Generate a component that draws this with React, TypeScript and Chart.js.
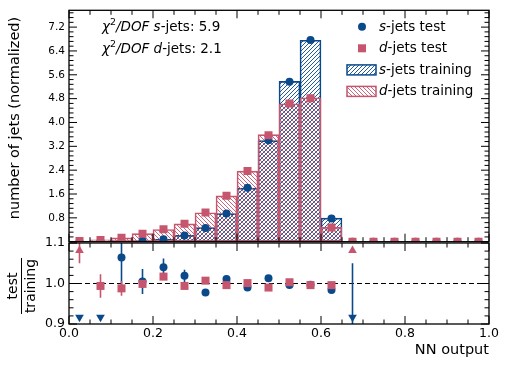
import React, { useEffect, useRef } from 'react';
import { Chart, registerables } from 'chart.js';

Chart.register(...registerables);

// ---------- data ----------
const binCenters = [0.025, 0.075, 0.125, 0.175, 0.225, 0.275, 0.325, 0.375, 0.425, 0.475, 0.525, 0.575, 0.625, 0.675, 0.725, 0.775, 0.825, 0.875, 0.925, 0.975];
const sTrain = [0, 0, 0.01, 0.02, 0.08, 0.21, 0.47, 0.94, 1.8, 3.39, 5.38, 6.76, 0.79, 0, 0, 0, 0, 0, 0, 0];
const dTrain = [0.02, 0.06, 0.13, 0.27, 0.41, 0.6, 0.97, 1.54, 2.37, 3.59, 4.63, 4.83, 0.48, 0, 0, 0, 0, 0, 0, 0];
const sTest = [0, 0, 0.01, 0.03, 0.08, 0.21, 0.46, 0.95, 1.81, 3.4, 5.37, 6.77, 0.78, 0, 0, 0, 0, 0, 0, 0];
const dTest = [0.025, 0.06, 0.13, 0.27, 0.42, 0.6, 0.98, 1.54, 2.37, 3.57, 4.64, 4.81, 0.48, 0, 0, 0, 0, 0, 0, 0];
const sRatio = [0, 0, 1.064, 1.005, 1.04, 1.019, 0.978, 1.011, 0.99, 1.013, 0.996, 0.997, 0.984, 0, null, null, null, null, null, null];
const sRatioErr = [0, 0, 0.085, 0.031, 0.022, 0.015, 0.006, 0.005, 0.004, 0.003, 0.002, 0.002, 0.006, 1.05, null, null, null, null, null, null];
const dRatio = [1.2, 0.994, 0.988, 0.999, 1.017, 0.994, 1.007, 0.996, 1.001, 0.99, 1.003, 0.996, 0.996, 1.5, null, null, null, null, null, null];
const dRatioErr = [0.15, 0.029, 0.018, 0.01, 0.008, 0.006, 0.005, 0.004, 0.003, 0.003, 0.002, 0.002, 0.006, 0, null, null, null, null, null, null];
const mainYTicks = [0.8, 1.6, 2.4, 3.2, 4.0, 4.8, 5.6, 6.4, 7.2];
const ratioYTicks = [0.9, 1.0, 1.1];
const xTicks = [0, 0.2, 0.4, 0.6, 0.8, 1.0];
const chi2Flavours = ['s', 'd'];
const chi2Values = ['5.9', '2.1'];
const legendFlavours = ['s', 'd', 's', 'd'];
const legendSuffix = ['-jets test', '-jets test', '-jets training', '-jets training'];

// ---------- style ----------
const BLUE = '#0a4a8b';
const RED = '#c5566d';
const FAM = '"DejaVu Sans", sans-serif';
const MAIN_MAX = 7.764;
const R_MIN = 0.9;
const R_MAX = 1.1;

function makeHatch(color: string, forward: boolean): any {
  const s = 4;
  const c = document.createElement('canvas');
  c.width = s;
  c.height = s;
  const g = c.getContext('2d');
  if (!g) return 'transparent';
  g.strokeStyle = color;
  g.lineWidth = 0.9;
  g.beginPath();
  if (forward) {
    g.moveTo(0, s); g.lineTo(s, 0);
    g.moveTo(-1, 1); g.lineTo(1, -1);
    g.moveTo(s - 1, s + 1); g.lineTo(s + 1, s - 1);
  } else {
    g.moveTo(0, 0); g.lineTo(s, s);
    g.moveTo(-1, s - 1); g.lineTo(1, s + 1);
    g.moveTo(s - 1, -1); g.lineTo(s + 1, 1);
  }
  g.stroke();
  return g.createPattern(c, 'repeat') || 'transparent';
}

type Seg = { t: string; it?: boolean; sup?: boolean };
function drawRich(ctx: CanvasRenderingContext2D, x: number, y: number, segs: Seg[], size: number) {
  let cx = x;
  ctx.textAlign = 'left';
  ctx.textBaseline = 'alphabetic';
  for (const s of segs) {
    const sz = s.sup ? size * 0.7 : size;
    ctx.font = `${s.it ? 'italic ' : ''}${sz}px ${FAM}`;
    ctx.fillText(s.t, cx, y + (s.sup ? -size * 0.42 : 0));
    cx += ctx.measureText(s.t).width;
  }
}

function decorPlugin(cfg: { xMinor: number; yMinor: number; xMajor: number[]; yMajor: number[] }) {
  return {
    id: 'decor',
    afterDatasetsDraw(chart: any) {
      const { ctx, chartArea: a } = chart;
      const xs = chart.scales.x;
      const ys = chart.scales.y;
      const MAJ = 8;
      const MIN = 4.5;
      ctx.save();
      ctx.strokeStyle = '#000';
      ctx.lineWidth = 1;
      ctx.beginPath();
      for (let v = xs.min; v <= xs.max + 1e-9; v += cfg.xMinor) {
        const isMaj = cfg.xMajor.some((m) => Math.abs(m - v) < 1e-6);
        const len = isMaj ? MAJ : MIN;
        const px = xs.getPixelForValue(v);
        ctx.moveTo(px, a.bottom); ctx.lineTo(px, a.bottom - len);
        ctx.moveTo(px, a.top); ctx.lineTo(px, a.top + len);
      }
      for (let v = ys.min; v <= ys.max + 1e-9; v += cfg.yMinor) {
        const isMaj = cfg.yMajor.some((m) => Math.abs(m - v) < 1e-6);
        const len = isMaj ? MAJ : MIN;
        const py = ys.getPixelForValue(v);
        ctx.moveTo(a.left, py); ctx.lineTo(a.left + len, py);
        ctx.moveTo(a.right, py); ctx.lineTo(a.right - len, py);
      }
      ctx.stroke();
      ctx.lineWidth = 1.3;
      ctx.strokeRect(a.left, a.top, a.right - a.left, a.bottom - a.top);
      ctx.restore();
    },
  };
}

function clampRatio(v: number) {
  if (v > R_MAX) return R_MAX - 0.0185;
  if (v < R_MIN) return R_MIN + 0.0165;
  return v;
}

export default function App() {
  const mainRef = useRef<HTMLCanvasElement>(null);
  const ratioRef = useRef<HTMLCanvasElement>(null);

  useEffect(() => {
    if (!mainRef.current || !ratioRef.current) return;
    const blueHatch = makeHatch(BLUE, true);
    const redHatch = makeHatch(RED, false);

    const mainText = {
      id: 'mainText',
      afterDraw(chart: any) {
        const ctx: CanvasRenderingContext2D = chart.ctx;
        ctx.save();
        ctx.fillStyle = '#000';
        // y title
        ctx.save();
        ctx.translate(15, 118);
        ctx.rotate(-Math.PI / 2);
        ctx.font = `14.5px ${FAM}`;
        ctx.textAlign = 'center';
        ctx.textBaseline = 'middle';
        ctx.fillText('number of jets (normalized)', 0, 0);
        ctx.restore();
        // chi2 annotations
        chi2Flavours.forEach((f, i) => {
          drawRich(ctx, 102, 30.5 + i * 22, [
            { t: 'χ', it: true },
            { t: '2', sup: true },
            { t: '/DOF', it: true },
            { t: ' ' },
            { t: f, it: true },
            { t: '-jets: ' + chi2Values[i] },
          ], 13.5);
        });
        // legend
        const rowsY = [26.7, 48.3, 69.9, 91.4];
        legendFlavours.forEach((f, i) => {
          const cy = rowsY[i];
          if (i === 0) {
            ctx.fillStyle = BLUE;
            ctx.beginPath();
            ctx.arc(362, cy, 4, 0, Math.PI * 2);
            ctx.fill();
          } else if (i === 1) {
            ctx.fillStyle = RED;
            ctx.fillRect(358, cy - 4, 8, 8);
          } else {
            const col = i === 2 ? BLUE : RED;
            ctx.fillStyle = i === 2 ? blueHatch : redHatch;
            ctx.fillRect(347, cy - 5, 29, 10);
            ctx.strokeStyle = col;
            ctx.lineWidth = 1.5;
            ctx.strokeRect(347, cy - 5, 29, 10);
          }
          ctx.fillStyle = '#000';
          drawRich(ctx, 379, cy + 3.8, [{ t: f, it: true }, { t: legendSuffix[i] }], 13.5);
        });
        ctx.restore();
      },
    };

    const mainChart = new Chart(mainRef.current, {
      type: 'bar',
      data: {
        datasets: [
          {
            type: 'scatter',
            label: 'd-jets test',
            data: binCenters.map((x, i) => ({ x, y: dTest[i] })),
            backgroundColor: RED,
            borderColor: RED,
            borderWidth: 0,
            pointStyle: 'rect',
            pointRadius: 5.66,
            clip: 0,
            order: 0,
          } as any,
          {
            type: 'scatter',
            label: 's-jets test',
            data: binCenters.map((x, i) => ({ x, y: sTest[i] })),
            backgroundColor: BLUE,
            borderColor: BLUE,
            borderWidth: 0,
            pointStyle: 'circle',
            pointRadius: 4,
            clip: 0,
            order: 1,
          } as any,
          {
            type: 'bar',
            label: 'd-jets training',
            data: binCenters.map((x, i) => ({ x, y: dTrain[i] })),
            backgroundColor: redHatch,
            borderColor: RED,
            borderWidth: 1,
            borderSkipped: false,
            barPercentage: 1,
            categoryPercentage: 1,
            grouped: false,
            order: 2,
          } as any,
          {
            type: 'bar',
            label: 's-jets training',
            data: binCenters.map((x, i) => ({ x, y: sTrain[i] })),
            backgroundColor: blueHatch,
            borderColor: BLUE,
            borderWidth: 1,
            borderSkipped: false,
            barPercentage: 1,
            categoryPercentage: 1,
            grouped: false,
            order: 3,
          } as any,
        ],
      },
      options: {
        responsive: false,
        animation: false,
        events: [],
        layout: { padding: { left: 0, right: 20, top: 9, bottom: 9 } },
        plugins: { legend: { display: false }, tooltip: { enabled: false } },
        scales: {
          x: { type: 'linear', min: 0, max: 1, display: false, offset: false },
          y: {
            type: 'linear',
            min: 0,
            max: MAIN_MAX,
            grid: { display: false, drawTicks: false },
            border: { display: false },
            ticks: {
              color: '#000',
              padding: 4,
              font: { family: FAM, size: 10.5 },
              callback: (v: any) => Number(v).toFixed(1),
            },
            afterBuildTicks: (s: any) => {
              s.ticks = mainYTicks.map((value) => ({ value }));
            },
            afterFit: (s: any) => {
              s.width = 69;
            },
          },
        },
      } as any,
      plugins: [decorPlugin({ xMinor: 0.05, yMinor: 0.16, xMajor: xTicks, yMajor: [0, ...mainYTicks] }), mainText],
    });

    const ratioExtras = {
      id: 'ratioExtras',
      beforeDatasetsDraw(chart: any) {
        const ctx: CanvasRenderingContext2D = chart.ctx;
        const { chartArea: a } = chart;
        const xs = chart.scales.x;
        const ys = chart.scales.y;
        ctx.save();
        // dashed reference
        ctx.strokeStyle = '#000';
        ctx.lineWidth = 1.2;
        ctx.setLineDash([5, 3]);
        ctx.beginPath();
        const y1 = ys.getPixelForValue(1.0);
        ctx.moveTo(a.left, y1);
        ctx.lineTo(a.right, y1);
        ctx.stroke();
        ctx.setLineDash([]);
        // error bars
        ctx.beginPath();
        ctx.rect(a.left, a.top, a.right - a.left, a.bottom - a.top);
        ctx.clip();
        const series: [any[], any[], string][] = [[sRatio, sRatioErr, BLUE], [dRatio, dRatioErr, RED]];
        for (const [vals, errs, col] of series) {
          ctx.strokeStyle = col;
          ctx.lineWidth = 1.6;
          ctx.beginPath();
          vals.forEach((v: number | null, i: number) => {
            const e = errs[i];
            if (v === null || e === null || e === 0) return;
            const px = xs.getPixelForValue(binCenters[i]);
            const lo = Math.max(R_MIN, v - e);
            const hi = Math.min(R_MAX, v + e);
            if (hi <= lo) return;
            ctx.moveTo(px, ys.getPixelForValue(lo));
            ctx.lineTo(px, ys.getPixelForValue(hi));
          });
          ctx.stroke();
        }
        ctx.restore();
      },
      afterDraw(chart: any) {
        const ctx: CanvasRenderingContext2D = chart.ctx;
        const { chartArea: a } = chart;
        ctx.save();
        ctx.fillStyle = '#000';
        ctx.strokeStyle = '#000';
        // y title fraction
        ctx.save();
        ctx.translate(21, 286 - 230);
        ctx.rotate(-Math.PI / 2);
        ctx.font = `14px ${FAM}`;
        ctx.textAlign = 'center';
        ctx.textBaseline = 'middle';
        ctx.fillText('test', 0, -8);
        ctx.fillText('training', 0, 10);
        ctx.lineWidth = 1;
        ctx.beginPath();
        ctx.moveTo(-28, 0.5);
        ctx.lineTo(28, 0.5);
        ctx.stroke();
        ctx.restore();
        // x title
        ctx.font = `14.5px ${FAM}`;
        ctx.textAlign = 'right';
        ctx.textBaseline = 'alphabetic';
        ctx.fillText('NN output', a.right, 354 - 230);
        ctx.restore();
      },
    };

    const ratioChart = new Chart(ratioRef.current, {
      type: 'scatter',
      data: {
        datasets: [
          {
            label: 'd-jets ratio',
            data: binCenters.map((x, i) => ({ x, y: dRatio[i] === null ? null : clampRatio(dRatio[i] as number) })),
            backgroundColor: RED,
            borderColor: RED,
            borderWidth: 0,
            pointStyle: (c: any) => {
              const v = dRatio[c.dataIndex];
              return v !== null && (v > R_MAX || v < R_MIN) ? 'triangle' : 'rect';
            },
            pointRotation: (c: any) => {
              const v = dRatio[c.dataIndex];
              return v !== null && v < R_MIN ? 180 : 0;
            },
            pointRadius: (c: any) => {
              const v = dRatio[c.dataIndex];
              return v !== null && (v > R_MAX || v < R_MIN) ? 5 : 5.66;
            },
            order: 0,
          } as any,
          {
            label: 's-jets ratio',
            data: binCenters.map((x, i) => ({ x, y: sRatio[i] === null ? null : clampRatio(sRatio[i] as number) })),
            backgroundColor: BLUE,
            borderColor: BLUE,
            borderWidth: 0,
            pointStyle: (c: any) => {
              const v = sRatio[c.dataIndex];
              return v !== null && (v > R_MAX || v < R_MIN) ? 'triangle' : 'circle';
            },
            pointRotation: (c: any) => {
              const v = sRatio[c.dataIndex];
              return v !== null && v < R_MIN ? 180 : 0;
            },
            pointRadius: (c: any) => {
              const v = sRatio[c.dataIndex];
              return v !== null && (v > R_MAX || v < R_MIN) ? 5 : 4;
            },
            order: 1,
          } as any,
        ],
      },
      options: {
        responsive: false,
        animation: false,
        events: [],
        layout: { padding: { left: 0, right: 20, top: 13, bottom: 0 } },
        plugins: { legend: { display: false }, tooltip: { enabled: false } },
        scales: {
          x: {
            type: 'linear',
            min: 0,
            max: 1,
            grid: { display: false, drawTicks: false },
            border: { display: false },
            ticks: {
              color: '#000',
              padding: 2,
              maxRotation: 0,
              autoSkip: false,
              font: { family: FAM, size: 12.5 },
              callback: (v: any) => Number(v).toFixed(1),
            },
            afterBuildTicks: (s: any) => {
              s.ticks = xTicks.map((value) => ({ value }));
            },
            afterFit: (s: any) => {
              s.height = 42;
            },
          },
          y: {
            type: 'linear',
            min: R_MIN,
            max: R_MAX,
            grid: { display: false, drawTicks: false },
            border: { display: false },
            ticks: {
              color: '#000',
              padding: 4,
              font: { family: FAM, size: 12.5 },
              callback: (v: any) => Number(v).toFixed(1),
            },
            afterBuildTicks: (s: any) => {
              s.ticks = ratioYTicks.map((value) => ({ value }));
            },
            afterFit: (s: any) => {
              s.width = 69;
            },
          },
        },
      } as any,
      plugins: [decorPlugin({ xMinor: 0.05, yMinor: 0.02, xMajor: xTicks, yMajor: ratioYTicks }), ratioExtras],
    });

    return () => {
      mainChart.destroy();
      ratioChart.destroy();
    };
  }, []);

  return (
    <div style={{ position: 'absolute', left: 0, top: 0, width: 509, height: 366, background: '#fff' }}>
      <canvas ref={mainRef} width={509} height={252} style={{ position: 'absolute', left: 0, top: 0, width: 509, height: 252 }} />
      <canvas ref={ratioRef} width={509} height={136} style={{ position: 'absolute', left: 0, top: 230, width: 509, height: 136 }} />
    </div>
  );
}
